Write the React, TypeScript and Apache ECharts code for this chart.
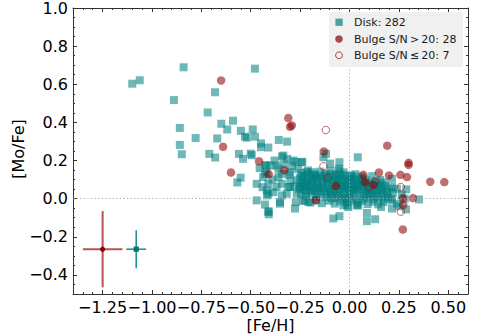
import React, { useEffect, useRef } from "react";
import * as echarts from "echarts";

const xTicks = [-1.25, -1.0, -0.75, -0.5, -0.25, 0, 0.25, 0.5];
const yTicks = [-0.4, -0.2, 0, 0.2, 0.4, 0.6, 0.8, 1.0];

const diskPoints: [number, number][] = [
  [-1.1, 0.603], [-1.062, 0.621], [-0.84, 0.689], [-0.479, 0.682], [-0.889, 0.517], [-0.681, 0.558],
  [-0.718, 0.452], [-0.859, 0.371], [-0.649, 0.393], [-0.59, 0.409], [-0.619, 0.363], [-0.55, 0.356],
  [-0.49, 0.363], [-0.529, 0.325], [-0.52, 0.32], [-0.479, 0.325], [-0.779, 0.318], [-0.67, 0.316],
  [-0.859, 0.282], [-0.448, 0.29], [-0.448, 0.27], [-0.411, 0.268], [-0.849, 0.233], [-0.71, 0.235],
  [-0.68, 0.216], [-0.358, 0.308], [-0.316, 0.299], [-0.56, 0.235], [-0.539, 0.209], [-0.5, 0.236],
  [-0.495, 0.228], [-0.551, 0.11], [-0.568, 0.085], [-0.421, 0.175], [-0.47, 0.078], [-0.47, -0.009],
  [-0.428, -0.031], [-0.409, -0.066], [-0.409, -0.082], [-0.419, 0.043], [-0.418, 0.017], [-0.352, -0.026],
  [-0.272, -0.018], [-0.342, 0.221], [-0.316, 0.209], [-0.274, 0.193], [-0.239, 0.193], [-0.369, 0.174],
  [-0.343, 0.13], [-0.301, 0.139], [-0.369, 0.061], [-0.31, 0.061], [-0.318, 0.026], [-0.267, 0.096],
  [-0.3, 0.096], [-0.217, 0.139], [-0.191, 0.139], [-0.234, 0.06], [-0.132, 0.217], [-0.119, 0.235],
  [-0.051, 0.191], [-0.051, 0.148], [-0.082, -0.104], [-0.051, -0.092], [-0.031, -0.035], [-0.014, 0.0],
  [-0.428, 0.174], [-0.428, 0.13], [-0.411, 0.078], [-0.411, 0.026], [-0.437, 0.113], [-0.42, 0.139],
  [-0.4, 0.174], [-0.335, 0.226], [-0.36, 0.157], [-0.36, 0.113], [-0.305, 0.125], [-0.301, 0.061],
  [-0.343, 0.078], [-0.386, 0.034], [-0.343, 0.017], [-0.352, -0.018], [-0.411, -0.07], [-0.276, -0.052],
  [-0.267, 0.026], [-0.25, 0.061], [-0.225, 0.078], [-0.225, -0.009], [-0.208, -0.018], [-0.284, 0.2],
  [-0.242, 0.191],
  [0.042, 0.217], [-0.053, 0.157], [-0.098, 0.184], [0.003, 0.122], [0.215, 0.104], [0.215, 0.061],
  [0.24, 0.052], [0.287, 0.049], [0.22, 0.031], [0.211, 0.0], [0.352, -0.004], [0.215, -0.009],
  [0.215, -0.052], [0.24, -0.026], [0.286, -0.056], [0.16, -0.044], [0.088, -0.075], [0.088, -0.118],
  [0.13, -0.108], [-0.011, -0.035], [0.037, -0.035], [-0.006, -0.044], [0.045, -0.035], [0.265, 0.02],
  [0.25, -0.04], [0.28, 0.0],
  [-0.245, 0.135], [-0.21, 0.148], [-0.175, 0.128], [-0.15, 0.142], [-0.12, 0.131], [-0.095, 0.146],
  [-0.07, 0.125], [-0.03, 0.138], [0.01, 0.112], [0.03, 0.128], [0.07, 0.105], [0.115, 0.118], [0.155, 0.098],
  [-0.252, 0.108], [-0.228, 0.118], [-0.195, 0.102], [-0.168, 0.115], [-0.142, 0.104], [-0.118, 0.112],
  [-0.085, 0.099], [-0.06, 0.116], [-0.035, 0.103], [-0.01, 0.095], [0.02, 0.101], [0.048, 0.088],
  [0.082, 0.097], [0.1, 0.084], [0.135, 0.093], [0.175, 0.086],
  [-0.24, 0.082], [-0.215, 0.09], [-0.19, 0.075], [-0.165, 0.088], [-0.138, 0.072], [-0.112, 0.085],
  [-0.09, 0.07], [-0.062, 0.083], [-0.04, 0.068], [-0.015, 0.079], [0.008, 0.066], [0.03, 0.078],
  [0.055, 0.064], [0.078, 0.074], [0.105, 0.06], [0.128, 0.071], [0.15, 0.058], [0.18, 0.066], [0.2, 0.052],
  [-0.255, 0.052], [-0.228, 0.046], [-0.2, 0.058], [-0.178, 0.042], [-0.152, 0.055], [-0.128, 0.04],
  [-0.1, 0.051], [-0.078, 0.038], [-0.052, 0.049], [-0.028, 0.036], [-0.005, 0.047], [0.018, 0.033],
  [0.042, 0.045], [0.068, 0.031], [0.09, 0.043], [0.118, 0.029], [0.14, 0.04], [0.165, 0.027], [0.19, 0.036],
  [-0.245, 0.022], [-0.22, 0.014], [-0.192, 0.026], [-0.168, 0.011], [-0.145, 0.021], [-0.118, 0.008],
  [-0.092, 0.019], [-0.068, 0.006], [-0.045, 0.017], [-0.02, 0.004], [0.005, 0.015], [0.028, 0.002],
  [0.052, 0.013], [0.075, 0.001], [0.098, 0.012], [0.125, -0.002], [0.148, 0.009], [0.172, -0.004], [0.195, 0.007],
  [-0.235, -0.012], [-0.198, -0.02], [-0.17, -0.008], [-0.14, -0.024], [-0.105, -0.011], [-0.075, -0.026],
  [-0.048, -0.014], [-0.015, -0.022], [0.012, -0.01], [0.04, -0.024], [0.065, -0.012], [0.092, -0.028],
  [0.118, -0.016], [0.145, -0.03], [0.172, -0.018],
  [-0.232, 0.096], [-0.205, 0.068], [-0.182, 0.124], [-0.158, 0.032], [-0.132, 0.09], [-0.108, 0.06],
  [-0.082, 0.128], [-0.058, 0.026], [-0.038, 0.088], [-0.012, 0.058], [0.012, 0.084], [0.036, 0.054],
  [0.06, 0.092], [0.086, 0.018], [0.11, 0.045], [0.138, 0.014], [0.162, 0.074], [0.185, 0.018],
  [-0.222, 0.032], [-0.185, 0.094], [-0.16, 0.066], [-0.125, 0.125], [-0.095, 0.034], [-0.066, 0.102],
  [-0.025, 0.12], [0.0, 0.03], [0.025, 0.058], [0.058, 0.115], [0.095, 0.068], [0.122, 0.05],
  [-0.248, 0.068], [-0.212, 0.128], [-0.148, 0.118], [-0.088, 0.002], [-0.032, 0.002], [0.045, 0.1],
  [0.072, 0.05], [0.132, 0.083], [0.158, 0.045], [-0.175, 0.055], [-0.115, 0.028], [-0.055, 0.064],
  [0.015, 0.118], [0.102, 0.025], [-0.198, 0.042], [-0.072, 0.048],
  [-0.29, 0.17], [-0.26, 0.155], [-0.33, 0.18], [-0.38, 0.2], [-0.455, 0.16], [-0.44, 0.06],
  [-0.39, 0.1], [-0.28, 0.065],
  [-0.238, 0.118], [-0.218, 0.062], [-0.188, 0.11], [-0.162, 0.1], [-0.135, 0.055], [-0.11, 0.1],
  [-0.098, 0.118], [-0.075, 0.088], [-0.05, 0.1], [-0.042, 0.125], [-0.02, 0.065], [0.002, 0.1],
  [0.022, 0.045], [0.04, 0.07], [0.065, 0.082], [0.085, 0.058], [0.112, 0.075], [0.14, 0.065],
  [0.165, 0.05], [-0.03, 0.05],
];

const bulgeHigh: [number, number][] = [
  [-0.65, 0.62], [-0.64, 0.272], [-0.6, 0.137], [-0.458, 0.196], [-0.409, 0.128], [-0.33, 0.149],
  [-0.31, 0.423], [-0.292, 0.384], [-0.301, 0.377], [-0.13, 0.248], [-0.069, 0.066], [-0.171, -0.009],
  [0.191, 0.278], [0.299, 0.188], [0.299, 0.177], [0.07, 0.125], [0.149, 0.137], [0.2, 0.122],
  [0.258, 0.125], [0.291, 0.113], [0.079, 0.087], [0.121, 0.073], [0.409, 0.089], [0.48, 0.087],
  [0.321, 0.003], [0.27, 0.003], [0.272, -0.033], [0.27, -0.162],
];

const bulgeLow: [number, number][] = [
  [-0.12, 0.36], [-0.132, 0.17], [-0.11, 0.11], [0.13, 0.087], [0.1, 0.061], [0.26, 0.061], [0.26, -0.068],
];

// typical uncertainties: [Fe/H], [Mo/Fe], err[Fe/H], err[Mo/Fe], kind (0 bulge, 1 disk)
const errFe = [-1.25, -1.08];
const errMo = [-0.265, -0.265];
const errFeSize = [0.1, 0.05];
const errMoSize = [0.2, 0.1];
const errKind = [0, 1];

const legendLabels = ["Disk: 282", "Bulge S/N\u2009>\u200920: 28", "Bulge S/N\u2009\u2264\u200920: 7"];
const xName = "[Fe/H]";
const yName = "[Mo/Fe]";

const FONT = "DejaVu Sans";
const AX = "#333";
const TEAL = "rgba(0,128,128,0.7)";
const RED = "rgba(139,0,0,0.7)";
const RED_EDGE = "rgba(160,20,20,0.8)";

function fmt(v: number, d: number) {
  const s = Math.abs(v).toFixed(d);
  return v < -1e-9 ? "\u2212" + s : s;
}

function xAx(pos: "bottom" | "top", major: boolean, labels: boolean) {
  return {
    type: "value",
    min: -1.4,
    max: 0.6,
    position: pos,
    ...(major ? {} : { interval: 0.05 }),
    axisLine: { show: major, onZero: false, lineStyle: { color: AX, width: 1 } },
    axisTick: {
      show: true,
      inside: true,
      length: major ? 4 : 2,
      ...(major ? { customValues: xTicks } : {}),
      lineStyle: { color: AX, width: 1 },
    },
    axisLabel: labels
      ? { show: true, customValues: xTicks, formatter: (v: number) => fmt(v, 2), fontSize: 16, fontFamily: FONT, color: "#000", margin: 5 }
      : { show: false },
    splitLine: { show: false },
  };
}

function yAx(pos: "left" | "right", major: boolean, labels: boolean) {
  return {
    type: "value",
    min: -0.5,
    max: 1.0,
    position: pos,
    ...(major ? {} : { interval: 0.05 }),
    axisLine: { show: major, onZero: false, lineStyle: { color: AX, width: 1 } },
    axisTick: {
      show: true,
      inside: true,
      length: major ? 4 : 2,
      ...(major ? { customValues: yTicks } : {}),
      lineStyle: { color: AX, width: 1 },
    },
    axisLabel: labels
      ? { show: true, customValues: yTicks, formatter: (v: number) => fmt(v, 1), fontSize: 16, fontFamily: FONT, color: "#000", margin: 5 }
      : { show: false },
    splitLine: { show: false },
  };
}

export default function App() {
  const ref = useRef<HTMLDivElement>(null);
  useEffect(() => {
    document.body.style.margin = "0";
    const chart = echarts.init(ref.current!, null, { renderer: "svg" });
    const errData = errFe.map((x, i) => [x, errMo[i], errFeSize[i], errMoSize[i], errKind[i]]);
    const option = {
      animation: false,
      backgroundColor: "#fff",
      grid: { left: 73, right: 15, top: 7, bottom: 41, containLabel: false },
      xAxis: [xAx("bottom", true, true), xAx("bottom", false, false), xAx("top", true, false), xAx("top", false, false)],
      yAxis: [yAx("left", true, true), yAx("left", false, false), yAx("right", true, false), yAx("right", false, false)],
      series: [
        {
          name: "disk",
          type: "scatter",
          xAxisIndex: 0,
          yAxisIndex: 0,
          symbol: "rect",
          symbolSize: 8,
          itemStyle: { color: TEAL },
          data: diskPoints,
          z: 2,
        },
        {
          name: "bulgeHigh",
          type: "scatter",
          xAxisIndex: 0,
          yAxisIndex: 0,
          symbol: "circle",
          symbolSize: 8.5,
          itemStyle: { color: RED },
          data: bulgeHigh,
          z: 3,
        },
        {
          name: "bulgeLow",
          type: "scatter",
          xAxisIndex: 0,
          yAxisIndex: 0,
          symbol: "circle",
          symbolSize: 7.5,
          itemStyle: { color: "rgba(0,0,0,0)", borderColor: RED_EDGE, borderWidth: 1 },
          data: bulgeLow,
          z: 4,
        },
        {
          name: "errors",
          type: "custom",
          xAxisIndex: 0,
          yAxisIndex: 0,
          z: 4,
          data: errData,
          renderItem: (_params: any, api: any) => {
            const x = api.value(0);
            const y = api.value(1);
            const xe = api.value(2);
            const ye = api.value(3);
            const kind = api.value(4);
            const c = api.coord([x, y]);
            const l = api.coord([x - xe, y]);
            const r = api.coord([x + xe, y]);
            const t = api.coord([x, y + ye]);
            const b = api.coord([x, y - ye]);
            const stroke = kind === 0 ? "rgba(160,40,40,0.8)" : "#1a8c8c";
            const lw = kind === 0 ? 2 : 1.5;
            const marker =
              kind === 0
                ? { type: "circle", shape: { cx: c[0], cy: c[1], r: 2.6 }, style: { fill: "#8b0000" } }
                : { type: "rect", shape: { x: c[0] - 2.6, y: c[1] - 2.6, width: 5.2, height: 5.2 }, style: { fill: "#007575" } };
            return {
              type: "group",
              children: [
                { type: "line", shape: { x1: l[0], y1: c[1], x2: r[0], y2: c[1] }, style: { stroke, lineWidth: lw } },
                { type: "line", shape: { x1: c[0], y1: t[1], x2: c[0], y2: b[1] }, style: { stroke, lineWidth: lw } },
                marker,
              ],
            };
          },
        },
        {
          name: "refLines",
          type: "scatter",
          xAxisIndex: 0,
          yAxisIndex: 0,
          data: [],
          z: 6,
          markLine: {
            silent: true,
            symbol: ["none", "none"],
            label: { show: false },
            lineStyle: { type: [1.2, 2.4], color: "#aaa", width: 1 },
            data: [{ xAxis: 0 }, { yAxis: 0 }],
            z: 6,
          },
        },
      ],
      graphic: [
        { type: "rect", shape: { x: 329, y: 12, width: 134, height: 55, r: 3 }, style: { fill: "#f0f0f0" }, z: 10 },
        { type: "rect", shape: { x: 335.4, y: 18.6, width: 7.3, height: 7.3 }, style: { fill: TEAL }, z: 11 },
        { type: "circle", shape: { cx: 339, cy: 39, r: 3.8 }, style: { fill: RED }, z: 11 },
        { type: "circle", shape: { cx: 339, cy: 55.3, r: 3.4 }, style: { fill: "none", stroke: RED_EDGE, lineWidth: 1 }, z: 11 },
        ...legendLabels.map((t, i) => ({
          type: "text",
          x: 354,
          y: [22.3, 39, 55.3][i],
          z: 11,
          style: { text: t, font: `11px '${FONT}'`, fill: "#1a1a1a", align: "left", verticalAlign: "middle" },
        })),
        {
          type: "text",
          x: 270.5,
          y: 325.5,
          style: { text: xName, font: `16px '${FONT}'`, fill: "#000", align: "center", verticalAlign: "middle" },
        },
        {
          type: "text",
          x: 18.5,
          y: 149,
          rotation: Math.PI / 2,
          style: { text: yName, font: `16px '${FONT}'`, fill: "#000", align: "center", verticalAlign: "middle" },
        },
      ],
    };
    chart.setOption(option as any);
    return () => chart.dispose();
  }, []);
  return <div ref={ref} style={{ position: "absolute", left: 0, top: 0, width: 483, height: 335 }} />;
}
